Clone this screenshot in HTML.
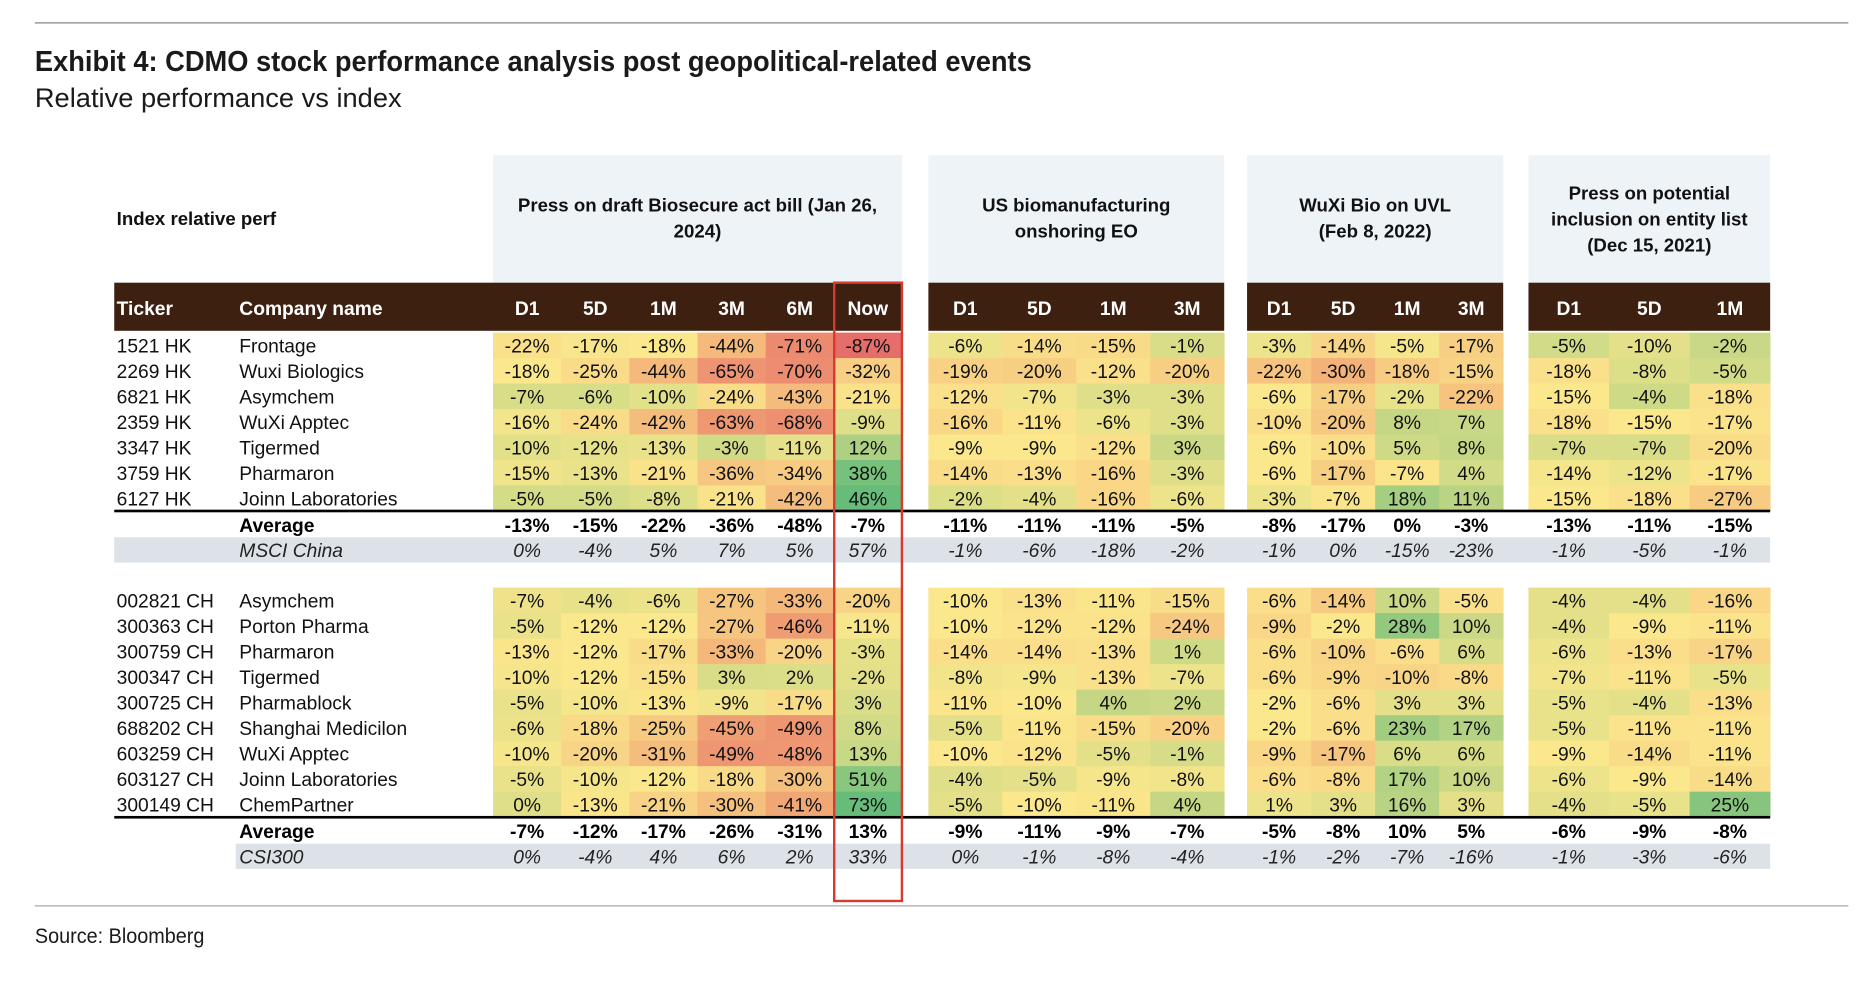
<!DOCTYPE html>
<html><head><meta charset="utf-8">
<style>
html,body{margin:0;padding:0;background:#fff;width:1876px;height:990px;overflow:hidden}
svg{display:block}
text{font-family:"Liberation Sans",Arial,sans-serif}
</style></head>
<body>
<svg id="chart" width="1876" height="990" viewBox="0 0 1560 823" preserveAspectRatio="none" xmlns="http://www.w3.org/2000/svg">
<line x1="29" y1="19" x2="1537" y2="19" stroke="#9a9a9a" stroke-width="1.3"/>
<text x="29" y="59" font-size="24" font-weight="bold" fill="#1a1a1a" textLength="829" lengthAdjust="spacingAndGlyphs" style="font-family:'Liberation Sans Narrow','Liberation Sans',sans-serif">Exhibit 4: CDMO stock performance analysis post geopolitical-related events</text>
<text x="29" y="89" font-size="22" fill="#1a1a1a" textLength="305" lengthAdjust="spacingAndGlyphs" style="font-family:'Liberation Sans Narrow','Liberation Sans',sans-serif">Relative performance vs index</text>
<line x1="29" y1="753" x2="1537" y2="753" stroke="#bdbdbd" stroke-width="1.3"/>
<text x="29" y="784" font-size="18" fill="#1a1a1a" textLength="141" lengthAdjust="spacingAndGlyphs" style="font-family:'Liberation Sans Narrow','Liberation Sans',sans-serif">Source: Bloomberg</text>
<g id="tbl"></g>
</svg>
<script>
const groupTitles=[["Press on draft Biosecure act bill (Jan 26,","2024)"],["US biomanufacturing","onshoring EO"],["WuXi Bio on UVL","(Feb 8, 2022)"],["Press on potential","inclusion on entity list","(Dec 15, 2021)"]];
const groupCols=[["D1","5D","1M","3M","6M","Now"],["D1","5D","1M","3M"],["D1","5D","1M","3M"],["D1","5D","1M"]];
const hkTickers=["1521 HK","2269 HK","6821 HK","2359 HK","3347 HK","3759 HK","6127 HK"];
const hkNames=["Frontage","Wuxi Biologics","Asymchem","WuXi Apptec","Tigermed","Pharmaron","Joinn Laboratories"];
const hkValues=[
[-22,-17,-18,-44,-71,-87,-6,-14,-15,-1,-3,-14,-5,-17,-5,-10,-2],
[-18,-25,-44,-65,-70,-32,-19,-20,-12,-20,-22,-30,-18,-15,-18,-8,-5],
[-7,-6,-10,-24,-43,-21,-12,-7,-3,-3,-6,-17,-2,-22,-15,-4,-18],
[-16,-24,-42,-63,-68,-9,-16,-11,-6,-3,-10,-20,8,7,-18,-15,-17],
[-10,-12,-13,-3,-11,12,-9,-9,-12,3,-6,-10,5,8,-7,-7,-20],
[-15,-13,-21,-36,-34,38,-14,-13,-16,-3,-6,-17,-7,4,-14,-12,-17],
[-5,-5,-8,-21,-42,46,-2,-4,-16,-6,-3,-7,18,11,-15,-18,-27]];
const hkAverage=[-13,-15,-22,-36,-48,-7,-11,-11,-11,-5,-8,-17,0,-3,-13,-11,-15];
const hkIndex=[0,-4,5,7,5,57,-1,-6,-18,-2,-1,0,-15,-23,-1,-5,-1];
const chTickers=["002821 CH","300363 CH","300759 CH","300347 CH","300725 CH","688202 CH","603259 CH","603127 CH","300149 CH"];
const chNames=["Asymchem","Porton Pharma","Pharmaron","Tigermed","Pharmablock","Shanghai Medicilon","WuXi Apptec","Joinn Laboratories","ChemPartner"];
const chValues=[
[-7,-4,-6,-27,-33,-20,-10,-13,-11,-15,-6,-14,10,-5,-4,-4,-16],
[-5,-12,-12,-27,-46,-11,-10,-12,-12,-24,-9,-2,28,10,-4,-9,-11],
[-13,-12,-17,-33,-20,-3,-14,-14,-13,1,-6,-10,-6,6,-6,-13,-17],
[-10,-12,-15,3,2,-2,-8,-9,-13,-7,-6,-9,-10,-8,-7,-11,-5],
[-5,-10,-13,-9,-17,3,-11,-10,4,2,-2,-6,3,3,-5,-4,-13],
[-6,-18,-25,-45,-49,8,-5,-11,-15,-20,-2,-6,23,17,-5,-11,-11],
[-10,-20,-31,-49,-48,13,-10,-12,-5,-1,-9,-17,6,6,-9,-14,-11],
[-5,-10,-12,-18,-30,51,-4,-5,-9,-8,-6,-8,17,10,-6,-9,-14],
[0,-13,-21,-30,-41,73,-5,-10,-11,4,1,3,16,3,-4,-5,25]];
const chAverage=[-7,-12,-17,-26,-31,13,-9,-11,-9,-7,-5,-8,10,5,-6,-9,-8];
const chIndex=[0,-4,4,6,2,33,0,-1,-8,-4,-1,-2,-7,-16,-1,-3,-6];

const G=document.getElementById('tbl');
const NS="http://www.w3.org/2000/svg";
function mk(tag,attrs,txt){const e=document.createElementNS(NS,tag);for(const k in attrs)e.setAttribute(k,attrs[k]);if(txt!==undefined)e.textContent=txt;G.appendChild(e);return e;}
const groupX=[[410,750],[772,1018],[1037,1250],[1271,1472]];
const cols=[];groupCols.forEach((c,g)=>{const w=(groupX[g][1]-groupX[g][0])/c.length;c.forEach((n,i)=>cols.push({g,x:groupX[g][0]+i*w,w,cx:groupX[g][0]+(i+.5)*w}));});
function lerp(a,b,t){return a.map((v,i)=>Math.round(v+(b[i]-v)*t));}
const Y=[251,231,140],O=[242,170,118],R=[230,110,106],GR=[104,188,122];
function colorFor(v,med,mn,mx){
  if(v<=med){const t=Math.min(1,(med-v)/Math.max(med-mn,55));
    return t<0.5?lerp(Y,O,t*2):lerp(O,R,(t-0.5)*2);}
  const t=Math.min(1,(v-med)/Math.max(mx-med,45));return lerp(Y,GR,Math.pow(t,0.85));}
const fmt=v=>v+'%';

groupX.forEach((gx,g)=>{const r=mk('rect',{x:gx[0],y:129,width:gx[1]-gx[0],height:106,fill:'#eef3f8'});


const lines=groupTitles[g];const cx=(gx[0]+gx[1])/2;const y0=lines.length===3?166:176;
lines.forEach((l,i)=>{const t=mk('text',{x:cx,y:y0+i*21.5,'text-anchor':'middle','font-size':15.5,'font-weight':'bold',fill:'#111'},l);

});});
let t0=mk('text',{x:97,y:187,'font-size':15.5,'font-weight':'bold',fill:'#111'},'Index relative perf');


[[95,750],[772,1018],[1037,1250],[1271,1472]].forEach((s,i)=>{const r=mk('rect',{x:s[0],y:235,width:s[1]-s[0],height:40,fill:'#3e2010'});

});
[['Ticker',97],['Company name',199]].forEach(a=>{const t=mk('text',{x:a[1],y:262,'font-size':16,'font-weight':'bold',fill:'#fff'},a[0]);

});
let ci=0;groupCols.forEach(c=>c.forEach(n=>{const t=mk('text',{x:cols[ci].cx,y:262,'text-anchor':'middle','font-size':16,'font-weight':'bold',fill:'#fff'},n);

ci++;}));

function block(tickers,names,vals,avg,idx,idxName,top,step,idxBgX){
  const stats=groupCols.map((c,g)=>{const a=[];vals.forEach(r=>cols.forEach((cc,j)=>{if(cc.g===g)a.push(r[j]);}));const s=a.slice().sort((x,y)=>x-y);return {mn:s[0],mx:s[s.length-1],med:s[Math.floor(s.length/2)]};});
  vals.forEach((row,i)=>{const y=top+i*step;
    const tk=mk('text',{x:97,y:y+step/2+6,'font-size':16,fill:'#111'},tickers[i]);
    
    
    const nm=mk('text',{x:199,y:y+step/2+6,'font-size':16,fill:'#111'},names[i]);
    
    
    row.forEach((v,j)=>{const c=cols[j],st=stats[c.g];const col=colorFor(v,st.med,st.mn,st.mx);
      const r=mk('rect',{x:c.x,y:y,width:c.w+0.3,height:step+0.3,fill:`rgb(${col})`});
      
      
      const t=mk('text',{x:c.cx,y:y+step/2+6,'text-anchor':'middle','font-size':16,fill:'#111'},fmt(v));
      
      });});
  const ly=top+vals.length*step;
  const ln=mk('rect',{x:95,y:ly-1,width:1377,height:2.2,fill:'#000'});
  
  
  const ay=ly+11.5+6;
  const at=mk('text',{x:199,y:ay,'font-size':16,'font-weight':'bold',fill:'#000'},'Average');
  
  
  avg.forEach((v,j)=>{const t=mk('text',{x:cols[j].cx,y:ay,'text-anchor':'middle','font-size':16,'font-weight':'bold',fill:'#000'},fmt(v));
    
    });
  const iy=ly+22;
  const bg=mk('rect',{x:idxBgX,y:iy,width:1472-idxBgX,height:21,fill:'#dde1e8'});
  
  
  const it=mk('text',{x:199,y:iy+16.5,'font-size':16,'font-style':'italic',fill:'#222'},idxName);
  
  
  idx.forEach((v,j)=>{const t=mk('text',{x:cols[j].cx,y:iy+16.5,'text-anchor':'middle','font-size':16,'font-style':'italic',fill:'#222'},fmt(v));
    
    });
}
block(hkTickers,hkNames,hkValues,hkAverage,hkIndex,'MSCI China',276.5,21.17,95);
block(chTickers,chNames,chValues,chAverage,chIndex,'CSI300',488.5,21.2,196);
const box=mk('rect',{x:693.7,y:235,width:56.3,height:514,fill:'none',stroke:'#d93a30','stroke-width':2});


</script>
</body></html>
